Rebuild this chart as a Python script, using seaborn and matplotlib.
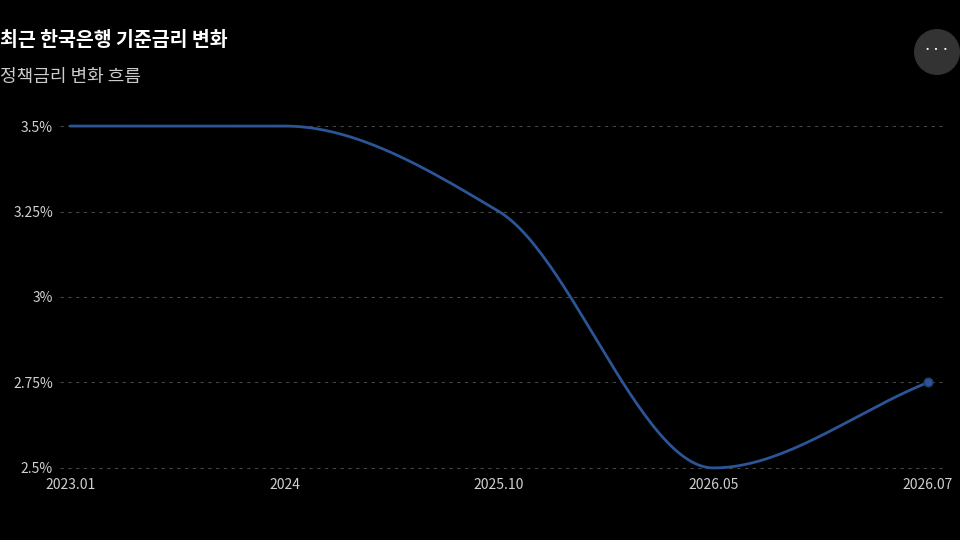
import numpy as np
import pandas as pd
import seaborn as sns
import matplotlib.pyplot as plt
from matplotlib.patches import Ellipse

# data
periods = ['2023.01', '2024', '2025.10', '2026.05', '2026.07']
rates = [3.5, 3.5, 3.25, 2.5, 2.75]
y_ticks = [2.5, 2.75, 3.0, 3.25, 3.5]
y_labels = ['2.5%', '2.75%', '3%', '3.25%', '3.5%']


def monotone_curve(x, y, n=60):
    # Fritsch-Carlson monotone cubic, only used to draw the smooth line
    x = np.asarray(x, float); y = np.asarray(y, float)
    h = np.diff(x); d = np.diff(y) / h
    m = np.zeros_like(y)
    m[0], m[-1] = d[0], d[-1]
    for i in range(1, len(y) - 1):
        if d[i - 1] * d[i] > 0:
            m[i] = 2 / (1 / d[i - 1] + 1 / d[i])
    xs, ys = [], []
    for i in range(len(h)):
        t = np.linspace(0, 1, n)
        h00 = 2*t**3 - 3*t**2 + 1; h10 = t**3 - 2*t**2 + t
        h01 = -2*t**3 + 3*t**2; h11 = t**3 - t**2
        xs.append(x[i] + t*h[i])
        ys.append(h00*y[i] + h10*h[i]*m[i] + h01*y[i+1] + h11*h[i]*m[i+1])
    return np.concatenate(xs), np.concatenate(ys)


pos = np.arange(len(periods))
cx, cy = monotone_curve(pos, rates)
curve = pd.DataFrame({'x': cx, 'rate': cy})

sns.set_style('dark')
plt.rcParams['font.family'] = ['Noto Sans CJK KR', 'DejaVu Sans']

fig = plt.figure(figsize=(9.6, 5.4), dpi=100, facecolor='black')
ax = fig.add_axes([60/960, 1 - 470/540, 885/960, (470-124)/540])
ax.set_facecolor('black')

sns.lineplot(data=curve, x='x', y='rate', ax=ax, color='#2b5597', linewidth=2, sort=False)
ax.scatter([pos[-1]], [rates[-1]], s=40, color='#2b5597', edgecolor='#1e3a6a', zorder=5)

ax.set_xlim(-0.047, 4.08)
ax.set_ylim(2.494, 3.506)
ax.set_xticks(pos)
ax.set_xticklabels(periods)
ax.set_yticks(y_ticks)
ax.set_yticklabels(y_labels)
ax.tick_params(colors='#d0d0d0', labelsize=10, length=0)
ax.tick_params(axis='x', pad=6)
ax.tick_params(axis='y', pad=5)
ax.set_xlabel(''); ax.set_ylabel('')
ax.grid(False)
for v in y_ticks:
    ax.axhline(v, color='#444444', linestyle=(0, (3, 4)), linewidth=0.8, zorder=0)
for s in ax.spines.values():
    s.set_visible(False)

fig.text(0.0, 1 - 40/540, '최근 한국은행 기준금리 변화', color='white', fontsize=14,
         fontweight='bold', va='center')
fig.text(0.0, 1 - 77/540, '정책금리 변화 흐름', color='#cccccc', fontsize=13, va='center')

fig.patches.append(Ellipse((937/960, 1 - 52/540), 46/960, 46/540, transform=fig.transFigure,
                           facecolor='#333333', edgecolor='none'))
fig.text(937/960, 1 - 50/540, '···', color='white', fontsize=12, ha='center', va='center')

fig.savefig('out.png', dpi=100, facecolor='black')
